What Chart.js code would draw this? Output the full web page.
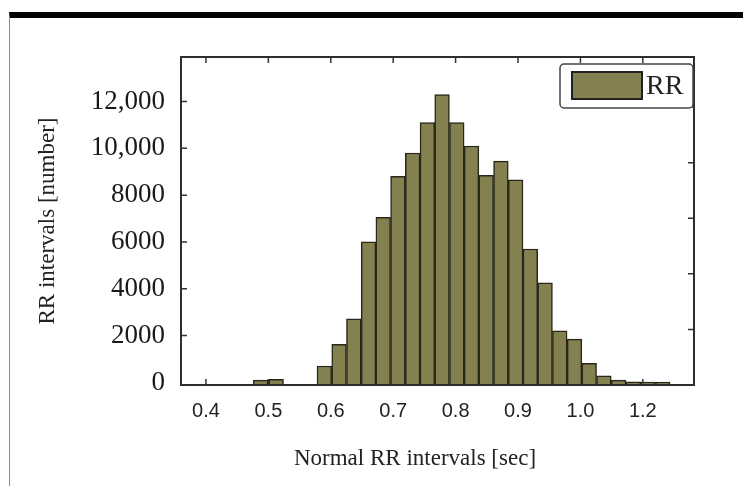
<!DOCTYPE html>
<html>
<head>
<meta charset="utf-8">
<script src="https://cdn.jsdelivr.net/npm/chart.js@4.4.1/dist/chart.umd.min.js"></script>
<style>
  body { margin: 0; background: #fff; }
  #frame { position: absolute; left: 9px; top: 12px; width: 734px; height: 474px; box-sizing: border-box;
           border-top: 6px solid #000; border-left: 1px solid #8c8c8c; }
  #rr_chart { position: absolute; left: 0; top: 0; }
</style>
</head>
<body>
<div id="frame"></div>
<canvas id="rr_chart" width="743" height="486"></canvas>
<script>
// histogram bins (centre of each bin, sec) and counts
const binCenters = [0.4875, 0.5125, 0.5897, 0.6133, 0.6369, 0.6605, 0.6840, 0.7076, 0.7312, 0.7548,
                    0.7783, 0.8019, 0.8255, 0.8491, 0.8726, 0.8962, 0.9198, 0.9434, 0.9669, 0.9905,
                    1.0141, 1.0376, 1.0612, 1.0848, 1.1084, 1.1319];
const rrCounts = [100, 130, 700, 1630, 2720, 6000, 7050, 8800, 9800, 11100,
                  12300, 11100, 10100, 8850, 9450, 8650, 5700, 4250, 2200, 1850,
                  820, 280, 100, 30, 20, 20];

// axis ticks (the last x label really reads "1.2" in the source)
const xTickValues = [0.4, 0.5, 0.6, 0.7, 0.8, 0.9, 1.0, 1.1];
const xTickLabels = ['0.4', '0.5', '0.6', '0.7', '0.8', '0.9', '1.0', '1.2'];
const yTickValues = [0, 2000, 4000, 6000, 8000, 10000, 12000];
const yTickLabels = ['0', '2000', '4000', '6000', '8000', '10,000', '12,000'];
const rightTickValues = [1, 2, 3, 4, 5];

const xTitle = 'Normal RR intervals [sec]';
const barColor = '#858050';
const yMin = -110;

const frameAndTicks = {
  id: 'frameAndTicks',
  beforeDatasetsDraw(chart) {
    const { ctx, chartArea: a, scales } = chart;
    ctx.save();
    ctx.strokeStyle = '#333';
    ctx.lineWidth = 1.5;
    ctx.beginPath();
    xTickValues.forEach(v => {
      const px = scales.x.getPixelForValue(v);
      ctx.moveTo(px, a.bottom); ctx.lineTo(px, a.bottom - 6);
      ctx.moveTo(px, a.top); ctx.lineTo(px, a.top + 6);
    });
    yTickValues.slice(1).forEach(v => {
      const py = scales.y.getPixelForValue(v);
      ctx.moveTo(a.left, py); ctx.lineTo(a.left + 6, py);
    });
    rightTickValues.forEach(v => {
      const py = scales.y2.getPixelForValue(v);
      ctx.moveTo(a.right, py); ctx.lineTo(a.right - 6, py);
    });
    ctx.stroke();
    ctx.restore();
  },
  afterDatasetsDraw(chart) {
    const { ctx, chartArea: a } = chart;
    const ds = chart.data.datasets[0];
    ctx.save();
    // plot frame
    ctx.strokeStyle = '#2e2e2e';
    ctx.lineWidth = 2;
    ctx.strokeRect(a.left, a.top, a.right - a.left, a.bottom - a.top);
    // legend box
    const bx = a.right - 134, by = a.top + 7, bw = 133, bh = 44;
    ctx.fillStyle = '#fff';
    ctx.strokeStyle = '#444';
    ctx.lineWidth = 1.5;
    ctx.beginPath();
    if (ctx.roundRect) ctx.roundRect(bx, by, bw, bh, 4); else ctx.rect(bx, by, bw, bh);
    ctx.fill();
    ctx.stroke();
    ctx.fillStyle = ds.backgroundColor;
    ctx.fillRect(bx + 12, by + 8, 70, 27);
    ctx.strokeStyle = '#222';
    ctx.lineWidth = 2;
    ctx.strokeRect(bx + 12, by + 8, 70, 27);
    ctx.fillStyle = '#222';
    ctx.font = '28px "Liberation Serif", "Times New Roman", serif';
    ctx.textBaseline = 'middle';
    ctx.fillText(ds.label, bx + 86, by + 23);
    // x title sits a little left of the plot centre in the source
    ctx.font = '23px "Liberation Serif", "Times New Roman", serif';
    ctx.textAlign = 'center';
    ctx.fillText(xTitle, a.left + 234, 459);
    ctx.restore();
  }
};

new Chart('rr_chart', {
  type: 'bar',
  data: {
    datasets: [{
      label: 'RR',
      data: binCenters.map((x, i) => ({ x: x, y: rrCounts[i] })),
      base: yMin,
      backgroundColor: barColor,
      borderColor: '#27271a',
      borderWidth: 1.5,
      barPercentage: 1,
      categoryPercentage: 1
    }]
  },
  options: {
    responsive: false,
    animation: false,
    devicePixelRatio: 1,
    layout: { padding: { left: 0, top: 57, right: 49, bottom: 0 } },
    plugins: { legend: { display: false }, tooltip: { enabled: false } },
    scales: {
      x: {
        type: 'linear',
        offset: false,
        min: 0.36,
        max: 1.182,
        afterBuildTicks: s => { s.ticks = xTickValues.map(v => ({ value: v })); },
        afterFit: s => { s.height = 101; },
        grid: { display: false, drawTicks: false },
        border: { display: false },
        ticks: {
          padding: 14, color: '#222', maxRotation: 0, autoSkip: false,
          font: { family: '"Liberation Sans", Arial, sans-serif', size: 20 },
          callback: (v, i) => xTickLabels[i]
        },
        title: { display: false }
      },
      y: {
        min: yMin,
        max: 13900,
        afterBuildTicks: s => { s.ticks = yTickValues.map(v => ({ value: v })); },
        afterFit: s => { s.width = 181; },
        grid: { display: false, drawTicks: false },
        border: { display: false },
        ticks: {
          padding: 16, color: '#1a1a1a',
          font: { family: '"Liberation Serif", "Times New Roman", serif', size: 27 },
          callback: (v, i) => yTickLabels[i]
        },
        title: {
          display: true, text: 'RR intervals [number]', color: '#222',
          font: { family: '"Liberation Serif", "Times New Roman", serif', size: 23 },
          padding: { top: 34, bottom: 0 }
        }
      },
      y2: {
        position: 'right',
        min: 0,
        max: 5.9,
        afterBuildTicks: s => { s.ticks = rightTickValues.map(v => ({ value: v })); },
        afterFit: s => { s.width = 0; },
        grid: { display: false, drawTicks: false },
        border: { display: false },
        ticks: { display: false }
      }
    }
  },
  plugins: [frameAndTicks]
});
</script>
</body>
</html>
